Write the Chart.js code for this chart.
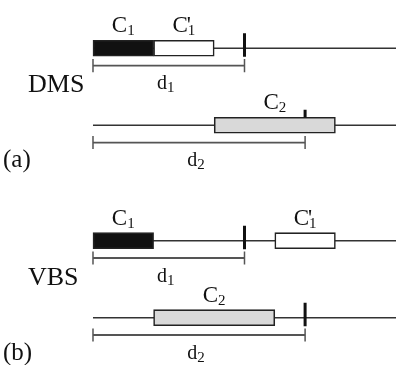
<!DOCTYPE html>
<html>
<head>
<meta charset="utf-8">
<script src="https://cdn.jsdelivr.net/npm/chart.js@4/dist/chart.umd.min.js"></script>
<style>
  html, body { margin: 0; padding: 0; background: #fff; }
  #wrap { width: 396px; height: 365px; }
</style>
</head>
<body>
<div id="wrap"><canvas id="myChart" width="396" height="365"></canvas></div>
<script>
// Rows (strands) and their model / panel names
const strandRows = [0, 1, 2.5, 3.5];
const strandStart = 0;
const strandEnd = 10;
const modelNames = ['DMS', 'VBS'];
const modelRows = [0, 2.5];
const panelNames = ['(a)', '(b)'];

// Boxes (floating bars)
const boxRows = [0, 0, 1, 2.5, 2.5, 3.5];
const boxStart = [0, 2, 4, 0, 6, 2];
const boxEnd = [2, 4, 8, 2, 8, 6];
const boxKind = ['black', 'white', 'gray', 'black', 'white', 'gray'];
const boxName = ['C', "C'", 'C', 'C', "C'", 'C'];
const boxSub = ['1', '1', '2', '1', '1', '2'];

// Marks on the strands
const markRows = [0, 1, 2.5, 3.5];
const markPos = [5, 7, 5, 7];
const markType = ['cut', 'top', 'cut', 'cut'];

// Distance brackets
const distRows = [0, 1, 2.5, 3.5];
const distEnd = [5, 7, 5, 7];
const distSub = ['1', '2', '1', '2'];

const fills = { black: '#111111', white: '#ffffff', gray: '#d9d9d9' };
const serif = '"Liberation Serif", "Times New Roman", serif';

function seg(x0, y0, x1, y1, color, width, order) {
    return {
        type: 'scatter',
        data: [{ x: x0, y: y0 }, { x: x1, y: y1 }],
        showLine: true,
        borderColor: color,
        borderWidth: width,
        pointRadius: 0,
        order: order
    };
}

function buildDatasets() {
    const ds = [];
    strandRows.forEach(r => ds.push(seg(strandStart, r, strandEnd, r, '#333333', 1.5, 5)));
    ds.push({
        type: 'bar',
        indexAxis: 'y',
        grouped: false,
        data: boxRows.map((r, i) => ({ y: r, x: [boxStart[i], boxEnd[i]] })),
        backgroundColor: boxKind.map(k => fills[k]),
        borderColor: '#222222',
        borderWidth: 1.6,
        borderSkipped: false,
        barThickness: 16,
        order: 4
    });
    markRows.forEach((r, i) => {
        if (markType[i] === 'cut') ds.push(seg(markPos[i], r - 0.195, markPos[i], r + 0.11, '#111111', 3, 1));
        else ds.push(seg(markPos[i], r - 0.2, markPos[i], r - 0.1, '#111111', 3, 1));
    });
    distRows.forEach((r, i) => {
        const y = r + 0.225;
        ds.push(seg(strandStart, y, distEnd[i], y, '#555555', 1.8, 3));
        ds.push(seg(strandStart, y - 0.085, strandStart, y + 0.085, '#555555', 1.5, 3));
        ds.push(seg(distEnd[i], y - 0.085, distEnd[i], y + 0.085, '#555555', 1.5, 3));
    });
    return ds;
}

function drawSubText(ctx, cx, baseY, main, sub, mainSize, subSize) {
    ctx.font = mainSize + 'px ' + serif;
    const prime = main.endsWith("'");
    const letter = prime ? main.slice(0, -1) : main;
    const wMain = ctx.measureText(letter).width;
    ctx.font = subSize + 'px ' + serif;
    const wSub = ctx.measureText(sub).width;
    const left = cx - (wMain + wSub) / 2;
    ctx.font = mainSize + 'px ' + serif;
    ctx.fillText(letter, left, baseY);
    if (prime) ctx.fillText("'", left + wMain - 1, baseY);
    ctx.font = subSize + 'px ' + serif;
    ctx.fillText(sub, left + wMain, baseY + 3);
}

const labelPlugin = {
    id: 'labels',
    afterDatasetsDraw(chart) {
        const ctx = chart.ctx;
        const xs = chart.scales.x, ys = chart.scales.y;
        ctx.save();
        ctx.fillStyle = '#111111';
        ctx.textAlign = 'left';
        ctx.textBaseline = 'alphabetic';
        boxRows.forEach((r, i) => {
            const cx = xs.getPixelForValue((boxStart[i] + boxEnd[i]) / 2);
            const by = ys.getPixelForValue(r) - 16;
            drawSubText(ctx, cx, by, boxName[i], boxSub[i], 23, 15);
        });
        distRows.forEach((r, i) => {
            const cx = xs.getPixelForValue((strandStart + distEnd[i]) / 2) - 3;
            const by = ys.getPixelForValue(r) + 41;
            drawSubText(ctx, cx, by, 'd', distSub[i], 20, 15);
        });
        modelRows.forEach((r, i) => {
            const y0 = ys.getPixelForValue(r);
            ctx.font = '26px ' + serif;
            ctx.fillText(modelNames[i], 28, y0 + 44);
            ctx.font = '25px ' + serif;
            ctx.fillText(panelNames[i], 3, y0 + 119);
        });
        ctx.restore();
    }
};

function renderChart() {
    const ctx = document.getElementById('myChart').getContext('2d');
    new Chart(ctx, {
        type: 'scatter',
        data: { datasets: buildDatasets() },
        options: {
            responsive: false,
            animation: false,
            events: [],
            layout: { padding: 0 },
            plugins: { legend: { display: false }, tooltip: { enabled: false } },
            scales: {
                x: { type: 'linear', min: -3.069, max: 10, offset: false, display: false },
                y: { type: 'linear', min: -0.6275, max: 4.115, reverse: true, offset: false, display: false }
            }
        },
        plugins: [labelPlugin]
    });
}

document.addEventListener('DOMContentLoaded', renderChart);
</script>
</body>
</html>
